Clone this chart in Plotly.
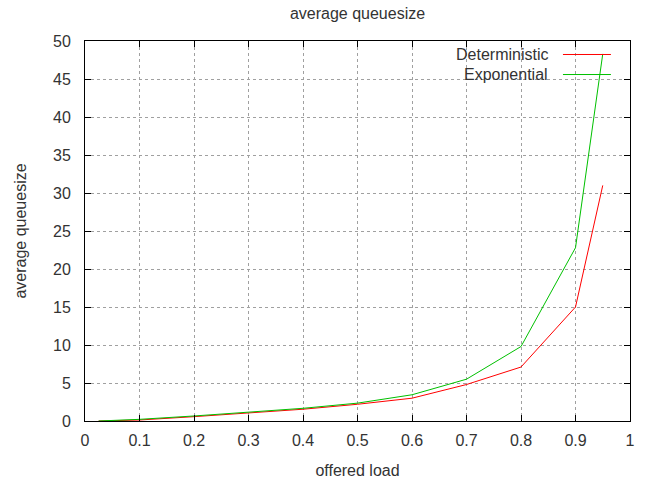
import plotly.graph_objects as go

offered_load = [0.025, 0.05, 0.1, 0.2, 0.3, 0.4, 0.5, 0.6, 0.7, 0.8, 0.9, 0.95]
deterministic = [0.0, 0.02, 0.13, 0.57, 1.05, 1.55, 2.2, 3.0, 4.8, 7.1, 15.0, 31.0]
exponential = [0.0, 0.05, 0.22, 0.66, 1.14, 1.67, 2.35, 3.45, 5.5, 9.8, 22.8, 48.3]
series_names = ["Deterministic", "Exponential"]
series_colors = ["#ff0000", "#00c000"]
x_ticks = [0, 0.1, 0.2, 0.3, 0.4, 0.5, 0.6, 0.7, 0.8, 0.9, 1]
x_tick_labels = ["0", "0.1", "0.2", "0.3", "0.4", "0.5", "0.6", "0.7", "0.8", "0.9", "1"]
y_ticks = [0, 5, 10, 15, 20, 25, 30, 35, 40, 45, 50]

font_family = "Liberation Sans, Arial, sans-serif"
text_color = "#333333"

fig = go.Figure()
for name, ys, col in zip(series_names, [deterministic, exponential], series_colors):
    fig.add_trace(go.Scatter(x=offered_load, y=ys, mode="lines", name=name,
                             line=dict(color=col, width=1), showlegend=False,
                             hoverinfo="skip"))

# gnuplot-style legend: text right-aligned, sample line to the right
legend_y = [0.9645, 0.9118]
for name, col, ly in zip(series_names, series_colors, legend_y):
    fig.add_annotation(xref="paper", yref="paper", x=0.853, y=ly, text=name,
                       showarrow=False, xanchor="right", yanchor="middle",
                       font=dict(family=font_family, size=16, color=text_color))
    fig.add_shape(type="line", xref="paper", yref="paper", x0=0.877, x1=0.965,
                  y0=ly, y1=ly, line=dict(color=col, width=1), layer="above")

axis_common = dict(
    showline=True, linecolor="#000000", linewidth=1, mirror="ticks",
    ticks="inside", ticklen=6, tickcolor="#000000",
    showgrid=True, gridcolor="#a0a0a0", griddash="dot", gridwidth=1,
    zeroline=False, automargin=False,
    tickfont=dict(family=font_family, size=16, color=text_color),
)

fig.update_layout(
    width=657, height=485,
    margin=dict(l=85, r=27, t=41, b=64),
    plot_bgcolor="#ffffff", paper_bgcolor="#ffffff",
    title=dict(text="average queuesize", x=0.5, xref="paper", xanchor="center",
               yref="container", y=0.972, yanchor="middle",
               font=dict(family=font_family, size=16, color=text_color)),
    xaxis=dict(range=[0, 1], tickvals=x_ticks, ticktext=x_tick_labels,
               ticklabelstandoff=5,
               title=dict(text="offered load", standoff=16,
                          font=dict(family=font_family, size=16, color=text_color)),
               **axis_common),
    yaxis=dict(range=[0, 50], tickvals=y_ticks,
               ticklabelstandoff=10,
               title=dict(text="average queuesize", standoff=22,
                          font=dict(family=font_family, size=16, color=text_color)),
               **axis_common),
)

fig.write_html("out.html", config={"displayModeBar": False},
               post_script="document.body.style.margin='0';")
